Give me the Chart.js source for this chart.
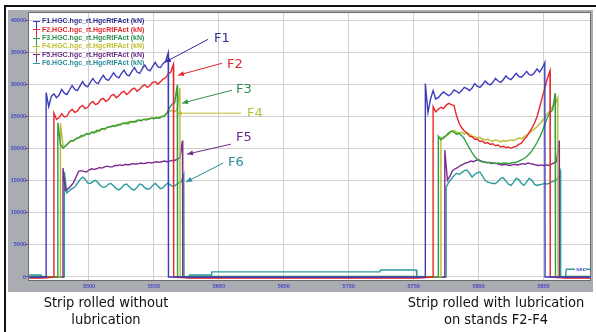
<!DOCTYPE html>
<html>
<head>
<meta charset="utf-8">
<script src="https://cdn.jsdelivr.net/npm/chart.js@4.4.1/dist/chart.umd.min.js"></script>
<style>
  html, body { margin: 0; padding: 0; background: #fff; }
  #wrap { position: relative; width: 596px; height: 332px; overflow: hidden; }
  #forceChart { position: absolute; left: 0; top: 0; }
  .caption {
    position: absolute;
    font-family: 'DejaVu Sans Condensed', 'DejaVu Sans', sans-serif;
    font-size: 14.5px;
    line-height: 17px;
    color: #111;
    text-align: center;
    white-space: nowrap;
  }
</style>
</head>
<body>
<div id="wrap">
  <canvas id="forceChart" width="596" height="332"></canvas>
  <div class="caption" style="left:16px; top:294px; width:180px;">Strip rolled without<br>lubrication</div>
  <div class="caption" style="left:386px; top:294px; width:220px;">Strip rolled with lubrication<br>on stands F2-F4</div>
</div>
<script>
// ---------------------------------------------------------------
// data : roll force per stand, kN, vs time, s
// ---------------------------------------------------------------
const seriesNames = [
    'F1.HGC.hgc_rt.HgcRtFAct (kN)',
    'F2.HGC.hgc_rt.HgcRtFAct (kN)',
    'F3.HGC.hgc_rt.HgcRtFAct (kN)',
    'F4.HGC.hgc_rt.HgcRtFAct (kN)',
    'F5.HGC.hgc_rt.HgcRtFAct (kN)',
    'F6.HGC.hgc_rt.HgcRtFAct (kN)'
];
const timeTicks = [5500, 5550, 5600, 5650, 5700, 5750, 5800, 5850];
const forceTicks = [0, 5000, 10000, 15000, 20000, 25000, 30000, 35000, 40000];

const sampleStep = 2; // s between samples inside a strip
// first sample (strip head entering the stand)
const strip1Start = [5467, 5473, 5476, 5478, 5480, 5481];
const strip2Start = [5759, 5765, 5769, 5771, 5774, 5775];

// strip 1, no lubrication
const f1Strip1 = [28800, 26600, 28200, 28600, 28000, 28400, 29300, 28700, 28500, 29200, 29900, 29300, 29100, 29800, 30500, 29900, 29700, 30400, 31000, 30400, 30200, 30900, 31500, 30900, 30700, 31300, 31900, 31300, 31100, 31800, 32300, 31600, 31400, 32100, 32700, 32000, 31800, 32500, 33100, 32400, 32200, 32900, 33500, 32800, 32700, 33300, 33700, 35000];
const f2Strip1 = [25600, 24600, 24900, 25500, 25000, 25100, 25800, 26200, 25700, 25900, 26500, 26800, 26300, 26500, 27100, 27400, 26900, 27100, 27700, 27900, 27400, 27700, 28300, 28500, 28000, 28300, 28800, 29000, 28500, 28800, 29300, 29500, 29000, 29300, 29800, 30000, 29600, 29900, 30400, 30500, 30100, 30500, 30900, 31100, 31700, 32000, 33200];
const f3Strip1 = [24100, 20700, 20100, 20500, 20900, 21300, 21300, 21600, 21700, 22100, 22000, 22400, 22300, 22600, 22500, 22900, 22800, 23200, 23100, 23400, 23400, 23600, 23500, 23800, 23700, 24000, 24100, 23900, 24200, 24300, 24200, 24500, 24400, 24600, 24500, 24700, 24800, 24700, 24900, 24800, 25000, 25100, 25600, 26400, 27000, 27200, 30000];
const f4Strip1 = [24000, 20500, 20400, 20800, 21200, 21200, 21600, 21800, 21800, 22200, 22300, 22300, 22600, 22700, 22600, 23000, 23100, 23000, 23300, 23500, 23500, 23700, 23600, 23900, 24000, 23900, 24200, 24300, 24100, 24400, 24500, 24400, 24600, 24700, 24600, 24800, 24900, 24800, 25000, 25100, 25200, 25500, 25900, 26000, 25800, 26200, 29500];
const f5Strip1 = [17000, 13500, 13800, 14200, 14700, 15600, 16500, 16600, 16500, 16400, 16700, 16900, 16800, 16900, 17100, 17000, 17200, 17300, 17200, 17200, 17400, 17400, 17500, 17400, 17600, 17500, 17600, 17700, 17600, 17700, 17800, 17700, 17800, 17900, 17800, 17900, 18000, 17900, 18000, 18100, 18000, 18100, 18200, 18200, 18400, 18600, 21300];
const f6Strip1 = [16400, 13100, 13500, 13800, 14000, 14600, 15200, 15600, 15300, 14700, 14600, 14900, 15100, 14700, 14200, 14000, 14100, 14500, 14600, 14200, 13800, 13600, 13900, 14400, 14500, 14100, 13700, 13600, 14000, 14500, 14400, 13900, 13700, 13800, 14300, 14600, 14200, 13800, 13900, 14400, 14700, 14300, 14100, 14400, 14700, 14800, 16000];

// strip 2, lubrication on F2-F4
const f1Strip2 = [30200, 25700, 27800, 29100, 27800, 28000, 28500, 28900, 28600, 28300, 28600, 29200, 29000, 28700, 29100, 29600, 29400, 29100, 29500, 30200, 29800, 29600, 30000, 30600, 30200, 30000, 30400, 31000, 30600, 30400, 30800, 31400, 31000, 30800, 31300, 31800, 31300, 31200, 31600, 32100, 31600, 31500, 31900, 32500, 32000, 32600, 33500];
const f2Strip2 = [26600, 25800, 26200, 26500, 26300, 26800, 27100, 26900, 26800, 25200, 24000, 23300, 22800, 22500, 22000, 21900, 21500, 21500, 21200, 21200, 20900, 21000, 20700, 20800, 20500, 20600, 20300, 20400, 20200, 20300, 20100, 20300, 20400, 20700, 20900, 21500, 21900, 22600, 23200, 24000, 25000, 26500, 28000, 29500, 31000, 32200];
const f3Strip2 = [22000, 21400, 21800, 22100, 22500, 22800, 22600, 22300, 22400, 22100, 21600, 20800, 20100, 19400, 18800, 18400, 18100, 18000, 17900, 17800, 17900, 17800, 17700, 17800, 17700, 17800, 17800, 17700, 17800, 17900, 17900, 18100, 18300, 18500, 18800, 19200, 19700, 20300, 21000, 21800, 22700, 23800, 24900, 25700, 26100, 28700];
const f4Strip2 = [21800, 21600, 22000, 22300, 22700, 22900, 22600, 22500, 22600, 22300, 22500, 22300, 22000, 21900, 21700, 21800, 21500, 21400, 21500, 21300, 21200, 21400, 21300, 21100, 21300, 21200, 21300, 21400, 21300, 21500, 21700, 21600, 21900, 22200, 22400, 22800, 23100, 23500, 23900, 24400, 24900, 25500, 26000, 26600, 27000, 28000];
const f5Strip2 = [19800, 15100, 15800, 16600, 16900, 17100, 17400, 17600, 17800, 17900, 18100, 18000, 18200, 18300, 18100, 18000, 17900, 17900, 17700, 17800, 17700, 17600, 17500, 17600, 17500, 17400, 17500, 17600, 17500, 17600, 17700, 17600, 17800, 17700, 17600, 17500, 17400, 17500, 17400, 17500, 17400, 17600, 17800, 18000, 21300];
const f6Strip2 = [14000, 14800, 15300, 15800, 16200, 16000, 16300, 16600, 16700, 16200, 15600, 16000, 16300, 16400, 15800, 15100, 14800, 14700, 14600, 14600, 14900, 15400, 15500, 15000, 14500, 14300, 14800, 15400, 15200, 14600, 14300, 14800, 15400, 15100, 14500, 14300, 14400, 14500, 14600, 14500, 14700, 14900, 15100, 15300, 16500];

// stands empty: only F6 shows a small offset
const idleTime = [5454, 5463, 5463.5, 5577, 5577.5, 5594, 5594.5, 5724, 5724.5, 5752, 5752.5, 5867, 5867.5, 5886];
const idleForce = [
    [0, 0, 0, 0, 0, 0, 0, 0, 0, 0, 0, 0, 0, 0],
    [-150, -150, -150, -150, -150, -150, -150, -150, -150, -150, -150, -150, -150, -150],
    [100, 100, 100, 100, 100, 100, 100, 100, 100, 100, 100, 100, 100, 100],
    [50, 50, 50, 50, 50, 50, 50, 50, 50, 50, 50, 50, 50, 50],
    [-80, -80, -80, -80, -80, -80, -80, -80, -80, -80, -80, -80, -80, -80],
    [300, 300, 0, 0, 300, 300, 800, 800, 1100, 1100, 0, 0, 1200, 1200]
];

const strip1Force = [f1Strip1, f2Strip1, f3Strip1, f4Strip1, f5Strip1, f6Strip1];
const strip2Force = [f1Strip2, f2Strip2, f3Strip2, f4Strip2, f5Strip2, f6Strip2];

// line colours (trend viewer palette)
const lineColors = ['#3c3cbc', '#e8262c', '#2f9e44', '#b9bc30', '#7a2c8e', '#2a9c9c'];
const textColors = ['#2e3192', '#e3262b', '#2f8f4f', '#bfc134', '#6b2d86', '#2b8c9a'];

// callouts next to the stand traces, in data units
const callouts = [
    { text: 'F1', at: [5596.3, 37270], from: [5591.6, 37100], to: [5558.5, 33530], head: 'arrow' },
    { text: 'F2', at: [5606.3, 33220], from: [5602.4, 33370], to: [5568.5, 31500], head: 'arrow' },
    { text: 'F3', at: [5613.2, 29320], from: [5610.1, 29160], to: [5571.6, 27140], head: 'arrow' },
    { text: 'F4', at: [5621.7, 25580], from: [5617.0, 25580], to: [5570.1, 25580], head: 'dot' },
    { text: 'F5', at: [5613.2, 21830], from: [5609.3, 20740], to: [5575.5, 19180], head: 'arrow' },
    { text: 'F6', at: [5607.0, 17780], from: [5603.2, 17780], to: [5574.7, 14820], head: 'arrow' }
];

function buildSeries(k) {
    const pts = [];
    let cursor = -Infinity;
    [[strip1Start[k], strip1Force[k]], [strip2Start[k], strip2Force[k]]].forEach(([start, vals]) => {
        idleTime.forEach((t, i) => {
            if (t > cursor && t < start) pts.push({ x: t, y: idleForce[k][i] });
        });
        pts.push({ x: start, y: 0 });
        vals.forEach((v, i) => pts.push({ x: start + i * sampleStep, y: v }));
        const end = start + (vals.length - 1) * sampleStep + 0.2;
        pts.push({ x: end, y: 0 });
        cursor = end;
    });
    idleTime.forEach((t, i) => {
        if (t > cursor) pts.push({ x: t, y: idleForce[k][i] });
    });
    return pts;
}

document.addEventListener('DOMContentLoaded', () => {
    const ctx = document.getElementById('forceChart').getContext('2d');
    const tickBlue = '#4848c8';
    const panelGrey = '#a9acb0';

    // grey frame of the trend viewer + outer black border
    const panelPlugin = {
        id: 'panel',
        beforeDraw(chart) {
            const { ctx, chartArea: a } = chart;
            ctx.save();
            ctx.fillStyle = '#111';
            ctx.fillRect(4, 5, 592, 2);
            ctx.fillRect(4, 5, 2, 327);
            ctx.fillStyle = panelGrey;
            ctx.fillRect(8, 10, 585, 282);
            ctx.fillStyle = '#fff';
            ctx.fillRect(a.left, a.top, a.right - a.left, a.bottom - a.top);
            ctx.restore();
        },
        afterDraw(chart) {
            const { ctx, chartArea: a } = chart;
            ctx.save();
            ctx.strokeStyle = '#6c6c6c';
            ctx.lineWidth = 1;
            ctx.strokeRect(a.left - 0.5, a.top - 0.5, a.right - a.left + 1, a.bottom - a.top + 1);
            // unit label at the lower right
            ctx.font = 'bold 6px "Liberation Sans", Arial, sans-serif';
            ctx.textBaseline = 'middle';
            ctx.textAlign = 'left';
            const ty = chart.scales.y.getPixelForValue(1200);
            ctx.fillStyle = '#fff';
            ctx.fillRect(a.right - 15, ty - 3, 11, 6);
            ctx.fillStyle = tickBlue;
            ctx.fillText('sec', a.right - 14, ty + 0.5);
            ctx.restore();
        }
    };

    // bracket style legend in the upper-left corner
    const legendPlugin = {
        id: 'bracketLegend',
        afterDatasetsDraw(chart) {
            const { ctx, chartArea: a } = chart;
            const x0 = a.left + 7;
            const y0 = a.top + 8;
            const rowH = 8.3;
            ctx.save();
            ctx.font = 'bold 7px "Liberation Sans", Arial, sans-serif';
            ctx.textBaseline = 'middle';
            ctx.lineWidth = 1;
            seriesNames.forEach((name, i) => {
                const y = y0 + i * rowH;
                ctx.strokeStyle = lineColors[i];
                ctx.beginPath();
                if (i < seriesNames.length - 1) {
                    ctx.moveTo(x0 + 0.5, y);
                    ctx.lineTo(x0 + 0.5, y + rowH);
                }
                ctx.moveTo(x0 - 3, Math.round(y) + 0.5);
                ctx.lineTo(x0 + 4, Math.round(y) + 0.5);
                ctx.stroke();
                ctx.fillStyle = textColors[i];
                ctx.fillText(name, x0 + 6, y + 0.5);
            });
            ctx.restore();
        }
    };

    // F1..F6 labels with pointer lines
    const calloutPlugin = {
        id: 'callouts',
        afterDatasetsDraw(chart) {
            const { ctx, scales: { x, y } } = chart;
            const px = p => [x.getPixelForValue(p[0]), y.getPixelForValue(p[1])];
            ctx.save();
            ctx.font = '13px "DejaVu Sans", sans-serif';
            ctx.textBaseline = 'middle';
            ctx.textAlign = 'left';
            callouts.forEach((c, i) => {
                const [x1, y1] = px(c.from);
                const [x2, y2] = px(c.to);
                ctx.strokeStyle = textColors[i];
                ctx.fillStyle = textColors[i];
                ctx.lineWidth = 1;
                ctx.beginPath();
                ctx.moveTo(x1, y1);
                ctx.lineTo(x2, y2);
                ctx.stroke();
                if (c.head === 'arrow') {
                    const ang = Math.atan2(y2 - y1, x2 - x1);
                    const len = 6, wid = 2.5;
                    ctx.beginPath();
                    ctx.moveTo(x2, y2);
                    ctx.lineTo(x2 - len * Math.cos(ang) + wid * Math.sin(ang), y2 - len * Math.sin(ang) - wid * Math.cos(ang));
                    ctx.lineTo(x2 - len * Math.cos(ang) - wid * Math.sin(ang), y2 - len * Math.sin(ang) + wid * Math.cos(ang));
                    ctx.closePath();
                    ctx.fill();
                } else {
                    ctx.beginPath();
                    ctx.arc(x2, y2, 2, 0, Math.PI * 2);
                    ctx.fill();
                }
                const [tx, ty] = px(c.at);
                ctx.fillText(c.text, tx, ty);
            });
            ctx.restore();
        }
    };

    new Chart(ctx, {
        type: 'line',
        data: {
            datasets: seriesNames.map((name, k) => ({
                label: name,
                data: buildSeries(k),
                borderColor: lineColors[k],
                backgroundColor: lineColors[k],
                borderWidth: 1.4,
                pointRadius: 0,
                tension: 0,
                fill: false
            }))
        },
        options: {
            responsive: false,
            animation: false,
            events: [],
            layout: { padding: { left: 8, top: 13, right: 6, bottom: 40 } },
            plugins: {
                legend: { display: false },
                tooltip: { enabled: false }
            },
            scales: {
                x: {
                    type: 'linear',
                    min: 5453.8,
                    max: 5885.8,
                    afterBuildTicks: s => { s.ticks = timeTicks.map(v => ({ value: v })); },
                    afterFit: s => { s.height = 12; },
                    border: { display: false },
                    grid: { color: '#d0d0d0', tickColor: panelGrey, tickLength: 2 },
                    ticks: {
                        autoSkip: false,
                        maxRotation: 0,
                        padding: 1,
                        color: tickBlue,
                        font: { size: 5.5, weight: 'bold', family: '"Liberation Sans", Arial, sans-serif' },
                        callback: v => String(v)
                    }
                },
                y: {
                    min: -470,
                    max: 41220,
                    afterBuildTicks: s => { s.ticks = forceTicks.map(v => ({ value: v })); },
                    afterFit: s => { s.width = 21; },
                    border: { display: false },
                    grid: { color: '#d0d0d0', tickColor: tickBlue, tickLength: 3 },
                    ticks: {
                        padding: 0,
                        color: tickBlue,
                        font: { size: 5.5, weight: 'bold', family: '"Liberation Sans", Arial, sans-serif' },
                        callback: v => String(v)
                    }
                }
            }
        },
        plugins: [panelPlugin, legendPlugin, calloutPlugin]
    });
});
</script>
</body>
</html>
